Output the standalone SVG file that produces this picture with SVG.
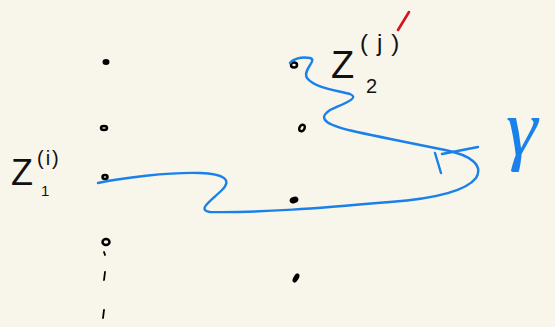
<svg xmlns="http://www.w3.org/2000/svg" width="555" height="327" viewBox="0 0 555 327">
<style>
.bg{fill:#f8f5ea}
.dot{fill:#000}
.ring{fill:none;stroke:#000;stroke-width:2.5}
.tick{fill:none;stroke:#000;stroke-width:1.8;stroke-linecap:round}
.blue{fill:none;stroke:#1a80ea;stroke-width:2.4;stroke-linecap:round;stroke-linejoin:round}
.lbl{font-family:"Liberation Sans",sans-serif;fill:#111}
</style>
<rect class="bg" width="555" height="327"/>
<g id="left-column">
<ellipse class="dot" cx="106" cy="62" rx="3.5" ry="3"/>
<ellipse class="ring" cx="104" cy="128" rx="3" ry="2"/>
<ellipse class="ring" cx="105" cy="177" rx="2.5" ry="2"/>
<ellipse class="ring" cx="106" cy="242" rx="3.5" ry="3"/>
<path class="tick" d="M104,252 L105,255"/>
<path class="tick" d="M105,272 L104,280"/>
<path class="tick" d="M104,310 L103,318"/>
</g>
<g id="right-column">
<ellipse class="ring" cx="294" cy="65" rx="3" ry="2.5"/>
<ellipse class="ring" cx="302" cy="128" rx="2.5" ry="3.5" transform="rotate(30 302 128)"/>
<ellipse class="dot" cx="294" cy="200" rx="4.5" ry="3.2" transform="rotate(-20 294 200)"/>
<ellipse class="dot" cx="296" cy="278" rx="2.6" ry="5" transform="rotate(30 296 278)"/>
</g>
<g id="label-z1">
<text class="lbl" x="11" y="185" font-size="36">Z</text>
<text class="lbl" x="41" y="196" font-size="15">1</text>
<text class="lbl" x="37" y="165" font-size="20" letter-spacing="2">(i)</text>
</g>
<g id="label-z2">
<text class="lbl" x="331" y="78" font-size="38">Z</text>
<text class="lbl" x="366" y="93" font-size="20">2</text>
<text class="lbl" x="360" y="51" font-size="24" letter-spacing="9">(j)</text>
<path d="M398,30 L409,12" fill="none" stroke="#d4141a" stroke-width="2.6" stroke-linecap="round"/>
</g>
<g id="label-gamma">
<text x="506" y="155" font-size="80" font-style="italic" font-family="Liberation Serif,serif" fill="#1a80ea">γ</text>
</g>
<g id="connectors">
<path class="blue" d="M98,183 C120,178 170,172 200,173 C225,174 232,180 222,190 C212,200 196,210 210,212 C260,213 320,208 390,202 C430,199 465,192 476,178 C484,165 470,155 445,150 C420,145 380,137 357,132 C330,126 315,120 330,110 C345,103 360,98 350,94 C335,90 315,88 307,78 C302,70 318,60 310,58 C300,56 292,60 290,63"/>
<path class="blue" d="M442,154 L478,147"/>
<path class="blue" d="M435,153 L441,173"/>
</g>
</svg>
